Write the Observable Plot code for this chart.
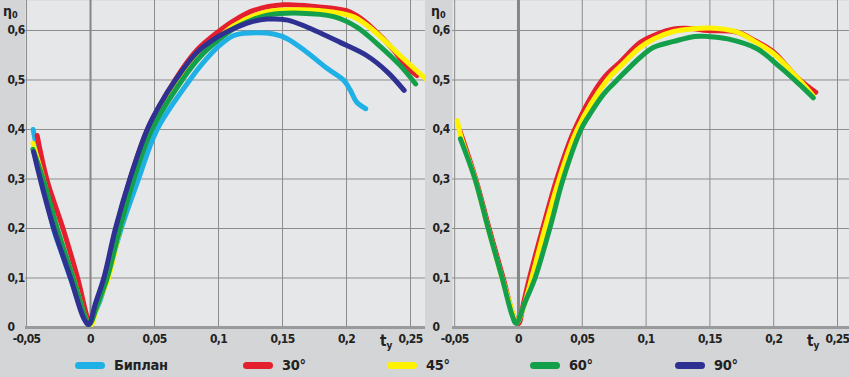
<!DOCTYPE html>
<html>
<head>
<meta charset="utf-8">
<script src="https://cdn.jsdelivr.net/npm/d3@7"></script>
<script src="https://cdn.jsdelivr.net/npm/@observablehq/plot@0.6"></script>
<style>
  html, body { margin: 0; padding: 0; background: #d4d5d7; }
  #wrap { width: 849px; height: 377px; position: relative; overflow: hidden; background: #d4d5d7;
          font-family: "DejaVu Sans Condensed", "Liberation Sans", sans-serif; font-weight: bold; }
  #charts { display: flex; }
  #legend { position: relative; height: 22px; }
  .item { position: absolute; top: 2px; display: flex; align-items: center; font-size: 14.5px; letter-spacing: -0.3px; color: #222; }
  .sw { width: 30px; height: 7px; border-radius: 3.5px; margin-right: 9px; }
</style>
</head>
<body>
<div id="wrap"><div id="charts"></div><div id="legend"></div></div>
<script>
// ---------- data ----------
const seriesNames = ["Биплан", "30°", "45°", "60°", "90°"];
const seriesColors = ["#1fb0e6", "#e4202e", "#fff200", "#14a04a", "#2e3192"];
const xTicks = [-0.05, 0, 0.05, 0.1, 0.15, 0.2, 0.25];
const yTicks = [0, 0.1, 0.2, 0.3, 0.4, 0.5, 0.6];

// left panel
const leftBiplan = [[-0.0448,0.400],[-0.041,0.350],[-0.0365,0.300],[-0.033,0.250],[-0.029,0.200],[-0.0225,0.150],[-0.0158,0.100],[-0.009,0.050],[-0.002,0.010],
  [0.006,0.045],[0.013,0.100],[0.024,0.200],[0.0375,0.300],[0.052,0.400],[0.0776,0.500],[0.088,0.535],[0.100,0.568],[0.112,0.590],[0.125,0.595],[0.143,0.593],
  [0.154,0.583],[0.169,0.556],[0.185,0.523],[0.198,0.499],[0.203,0.479],[0.208,0.455],[0.215,0.442]];
const left30 = [[-0.0417,0.388],[-0.0339,0.297],[-0.0214,0.199],[-0.0099,0.098],[-0.0026,0.021],[0.0,0.006],
  [0.005,0.050],[0.011,0.100],[0.020,0.200],[0.031,0.300],[0.0445,0.400],[0.066,0.500],[0.083,0.560],[0.100,0.598],[0.112,0.620],
  [0.128,0.641],[0.151,0.652],[0.177,0.648],[0.200,0.640],[0.208,0.630],[0.221,0.603],[0.237,0.560],[0.247,0.526],[0.255,0.509]];
const left45 = [[-0.045,0.372],[-0.037,0.300],[-0.027,0.200],[-0.0135,0.100],[-0.004,0.020],[0.0,0.004],
  [0.006,0.050],[0.014,0.100],[0.023,0.200],[0.033,0.300],[0.0465,0.400],[0.0698,0.500],[0.086,0.550],[0.100,0.585],[0.112,0.610],
  [0.138,0.638],[0.164,0.642],[0.190,0.637],[0.206,0.627],[0.221,0.600],[0.242,0.549],[0.262,0.502]];
const left60 = [[-0.045,0.360],[-0.037,0.300],[-0.026,0.200],[-0.0135,0.100],[-0.004,0.020],[-0.001,0.006],
  [0.006,0.050],[0.013,0.100],[0.023,0.200],[0.0339,0.300],[0.048,0.400],[0.0716,0.500],[0.086,0.548],[0.100,0.581],[0.112,0.604],
  [0.125,0.620],[0.138,0.631],[0.164,0.635],[0.190,0.628],[0.208,0.607],[0.224,0.573],[0.242,0.529],[0.254,0.492]];
const left90 = [[-0.0445,0.355],[-0.039,0.297],[-0.0286,0.199],[-0.0156,0.100],[-0.0052,0.018],[-0.0015,0.006],
  [0.004,0.050],[0.0104,0.100],[0.0195,0.200],[0.0307,0.300],[0.0443,0.400],[0.0547,0.452],[0.0664,0.500],[0.0833,0.556],[0.100,0.588],[0.112,0.604],
  [0.125,0.617],[0.138,0.623],[0.154,0.621],[0.169,0.607],[0.195,0.576],[0.216,0.549],[0.232,0.516],[0.245,0.479]];

// right panel
const right30 = [[-0.046,0.398],[-0.0335,0.300],[-0.023,0.200],[-0.012,0.100],[-0.004,0.025],[0.0,0.008],
  [0.004,0.050],[0.0086,0.100],[0.019,0.200],[0.030,0.300],[0.044,0.400],[0.0656,0.500],[0.080,0.537],[0.0955,0.576],[0.106,0.590],[0.1217,0.603],
  [0.135,0.604],[0.148,0.600],[0.171,0.597],[0.185,0.580],[0.200,0.556],[0.218,0.506],[0.233,0.475]];
const right45 = [[-0.048,0.418],[-0.045,0.385],[-0.034,0.300],[-0.0237,0.200],[-0.0128,0.100],[-0.004,0.025],[-0.0015,0.008],
  [0.005,0.050],[0.0104,0.100],[0.0207,0.200],[0.032,0.300],[0.046,0.400],[0.0695,0.500],[0.080,0.528],[0.0955,0.566],[0.106,0.583],[0.1217,0.598],
  [0.135,0.603],[0.150,0.605],[0.171,0.597],[0.185,0.578],[0.200,0.553],[0.218,0.506],[0.231,0.468]];
const right60 = [[-0.0455,0.381],[-0.0341,0.300],[-0.0237,0.200],[-0.0128,0.100],[-0.005,0.025],[-0.0018,0.008],
  [0.005,0.050],[0.013,0.100],[0.0245,0.200],[0.035,0.300],[0.049,0.400],[0.0545,0.425],[0.0669,0.472],[0.0773,0.500],[0.0955,0.546],[0.106,0.566],
  [0.1217,0.578],[0.138,0.588],[0.148,0.588],[0.164,0.583],[0.187,0.563],[0.205,0.526],[0.221,0.489],[0.231,0.464]];

const leftSeries = [leftBiplan, left30, left45, left60, left90];
const rightSeries = [null, right30, right45, right60, null];

// ---------- build ----------
const PLOT_BG = "#e6e7e9";
const GRID = "#8c8c8c";
const fmt = d => String(d).replace(".", ",");

function rowsOf(list) {
  const rows = [];
  list.forEach((pts, i) => { if (pts) pts.forEach(([x, y]) => rows.push({series: seriesNames[i], x, y})); });
  return rows;
}

function panel(rows, opts) {
  const svg = Plot.plot({
    width: opts.width, height: 355,
    marginLeft: opts.marginLeft, marginRight: 0, marginTop: 0, marginBottom: 28,
    style: {background: "transparent", fontFamily: '"DejaVu Sans Condensed", sans-serif', fontWeight: "bold",
            fontSize: "12px", letterSpacing: "-0.7px", color: "#222"},
    x: {domain: opts.xDomain, axis: null},
    y: {domain: [0, 0.6606], axis: null},
    color: {domain: seriesNames, range: seriesColors},
    marks: [
      Plot.frame({fill: PLOT_BG, stroke: null}),
      Plot.gridX(xTicks, {stroke: GRID, strokeOpacity: 1, strokeWidth: 1}),
      Plot.gridY(yTicks.slice(1), {stroke: GRID, strokeOpacity: 1, strokeWidth: 1}),
      Plot.ruleX([0], {stroke: "#868686", strokeWidth: opts.zeroWidth}),
      Plot.ruleY([0], {stroke: "#999a9c", strokeWidth: 3}),
      Plot.line(rows, {x: "x", y: "y", z: "series", stroke: "series", strokeWidth: 5,
        curve: "catmull-rom", strokeLinejoin: "round", clip: true}),
      Plot.axisX(xTicks, {tickSize: 0, tickPadding: 7, tickFormat: fmt, fontSize: 12, label: null}),
      Plot.axisY(yTicks, {tickSize: 0, tickPadding: 0, textAnchor: "start", dx: opts.labelDx, dy: 0, tickFormat: fmt, fontSize: 12, label: null})
    ]
  });
  const s = d3.select(svg);
  const eta = s.append("text").attr("x", opts.etaX).attr("y", 16).attr("text-anchor", "start")
    .attr("font-size", 14).attr("font-weight", "bold").attr("fill", "#222").attr("letter-spacing", "0").text("η");
  eta.append("tspan").attr("font-size", 9).attr("dy", 2).text("0");
  const t = s.append("text").attr("x", opts.tX).attr("y", 346).attr("text-anchor", "start")
    .attr("font-size", 15).attr("font-weight", "bold").attr("fill", "#222").attr("letter-spacing", "0").text("t");
  t.append("tspan").attr("font-size", 10).attr("dy", 3).text("y");
  return svg;
}

const charts = document.getElementById("charts");
charts.appendChild(panel(rowsOf(leftSeries), {width: 425, marginLeft: 25, xDomain: [-0.0508, 0.2617], zeroWidth: 2, labelDx: -18, etaX: 3, tX: 380}));
charts.appendChild(panel(rowsOf(rightSeries), {width: 424, marginLeft: 27, xDomain: [-0.0517, 0.2594], zeroWidth: 3, labelDx: -20, etaX: 6, tX: 382}));

// legend
const legendLeft = [75, 243, 387, 530, 675];
const legend = document.getElementById("legend");
seriesNames.forEach((name, i) => {
  const item = document.createElement("div");
  item.className = "item";
  item.style.left = legendLeft[i] + "px";
  const sw = document.createElement("span");
  sw.className = "sw";
  sw.style.background = seriesColors[i];
  const tx = document.createElement("span");
  tx.textContent = name;
  item.appendChild(sw); item.appendChild(tx);
  legend.appendChild(item);
});
</script>
</body>
</html>
